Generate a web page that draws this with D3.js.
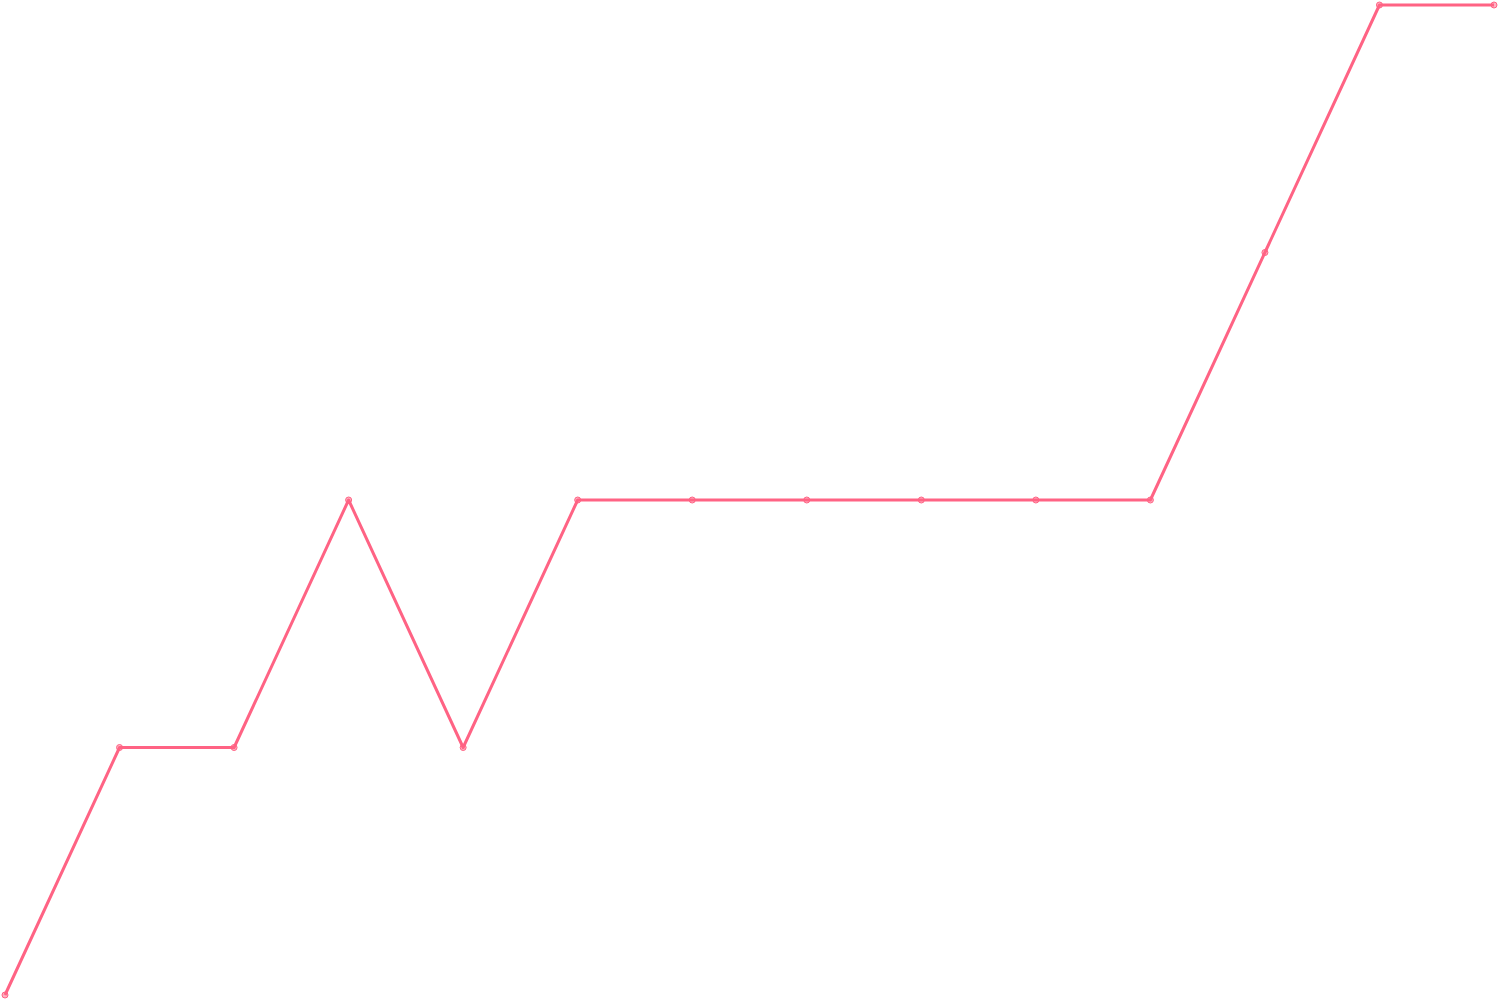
<!DOCTYPE html>
<html>
<head>
<meta charset="utf-8">
<script src="https://cdn.jsdelivr.net/npm/d3@7"></script>
<style>
  html, body { margin: 0; padding: 0; background: #fff; }
  svg { display: block; }
</style>
</head>
<body>
<div id="chart"></div>
<script>
// one series, fourteen steps
var steps = [0, 1, 2, 3, 4, 5, 6, 7, 8, 9, 10, 11, 12, 13];
var values = [0, 1, 1, 2, 1, 2, 2, 2, 2, 2, 2, 3, 4, 4];

var width = 1500, height = 1000;
var padLeft = 5, padRight = 6, padTop = 5, padBottom = 5;

var svg = d3.select('#chart')
    .append('svg')
    .attr('width', width)
    .attr('height', height);

var xScale = d3.scaleLinear()
    .domain(d3.extent(steps))
    .range([padLeft, width - padRight]);

var yScale = d3.scaleLinear()
    .domain([d3.min(values), d3.max(values)])
    .range([height - padBottom, padTop]);

var line = d3.line()
    .x((d, i) => xScale(steps[i]))
    .y(d => yScale(d));

svg.append('path')
    .datum(values)
    .attr('fill', 'none')
    .attr('stroke', '#ff6384')
    .attr('stroke-width', 3)
    .attr('stroke-linejoin', 'round')
    .attr('d', line);

svg.selectAll('circle')
    .data(values)
    .enter()
    .append('circle')
    .attr('cx', (d, i) => xScale(steps[i]))
    .attr('cy', d => yScale(d))
    .attr('r', 3)
    .attr('fill', 'rgba(255, 99, 132, 0.5)')
    .attr('stroke', '#ff6384')
    .attr('stroke-width', 1);
</script>
</body>
</html>
